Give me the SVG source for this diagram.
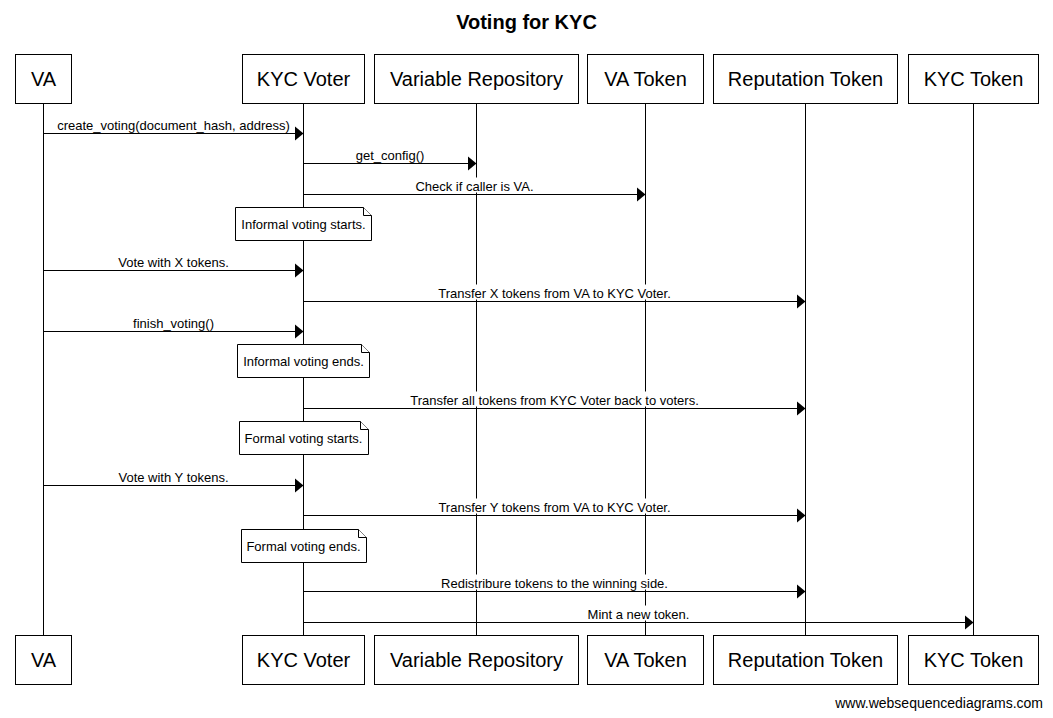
<svg xmlns="http://www.w3.org/2000/svg" width="1053" height="718" viewBox="0 0 1053 718">
  <defs>
    <marker id="ah" markerUnits="userSpaceOnUse" markerWidth="9" markerHeight="15" refX="9" refY="7.5" orient="auto">
      <path d="M0,0 L9,7.5 L0,15 Z" fill="#000"/>
    </marker>
  </defs>
  <style>
    .box { fill: #fff; stroke: #000; stroke-width: 1; }
    .life { stroke: #000; stroke-width: 1; fill: none; }
    .msg { stroke: #000; stroke-width: 1; fill: none; marker-end: url(#ah); }
    .pt { font-family: "Liberation Sans", Arial, sans-serif; font-size: 20px; text-anchor: middle; fill: #000; }
    .lbl { font-family: "Liberation Sans", Arial, sans-serif; font-size: 13px; text-anchor: middle; fill: #000; }
    .bg { fill: #fff; stroke: none; }
    .note { fill: #fff; stroke: #000; stroke-width: 1; }
    .title { font-family: "Liberation Sans", Arial, sans-serif; font-size: 20px; font-weight: bold; text-anchor: middle; fill: #000; }
    .foot { font-family: "Liberation Sans", Arial, sans-serif; font-size: 14px; text-anchor: end; fill: #000; }
  </style>
  <rect width="1053" height="718" fill="#fff"/>
  <text class="title" x="526.5" y="29">Voting for KYC</text>

  <g id="lifelines">
    <line class="life" x1="43.5" y1="103.5" x2="43.5" y2="635.5"/>
    <line class="life" x1="303.5" y1="103.5" x2="303.5" y2="635.5"/>
    <line class="life" x1="476.5" y1="103.5" x2="476.5" y2="635.5"/>
    <line class="life" x1="645.5" y1="103.5" x2="645.5" y2="635.5"/>
    <line class="life" x1="805.5" y1="103.5" x2="805.5" y2="635.5"/>
    <line class="life" x1="973.5" y1="103.5" x2="973.5" y2="635.5"/>
  </g>

  <g id="p-va">
    <rect class="box" x="15.5" y="54.5" width="56" height="49"/>
    <text class="pt" x="43.5" y="86">VA</text>
    <rect class="box" x="15.5" y="635.5" width="56" height="49"/>
    <text class="pt" x="43.5" y="667">VA</text>
  </g>
  <g id="p-kycvoter">
    <rect class="box" x="242.5" y="54.5" width="122" height="49"/>
    <text class="pt" x="303.5" y="86">KYC Voter</text>
    <rect class="box" x="242.5" y="635.5" width="122" height="49"/>
    <text class="pt" x="303.5" y="667">KYC Voter</text>
  </g>
  <g id="p-varrepo">
    <rect class="box" x="374.5" y="54.5" width="204" height="49"/>
    <text class="pt" x="476.5" y="86">Variable Repository</text>
    <rect class="box" x="374.5" y="635.5" width="204" height="49"/>
    <text class="pt" x="476.5" y="667">Variable Repository</text>
  </g>
  <g id="p-vatoken">
    <rect class="box" x="587.5" y="54.5" width="116" height="49"/>
    <text class="pt" x="645.5" y="86">VA Token</text>
    <rect class="box" x="587.5" y="635.5" width="116" height="49"/>
    <text class="pt" x="645.5" y="667">VA Token</text>
  </g>
  <g id="p-reptoken">
    <rect class="box" x="713.5" y="54.5" width="184" height="49"/>
    <text class="pt" x="805.5" y="86">Reputation Token</text>
    <rect class="box" x="713.5" y="635.5" width="184" height="49"/>
    <text class="pt" x="805.5" y="667">Reputation Token</text>
  </g>
  <g id="p-kyctoken">
    <rect class="box" x="908.5" y="54.5" width="130" height="49"/>
    <text class="pt" x="973.5" y="86">KYC Token</text>
    <rect class="box" x="908.5" y="635.5" width="130" height="49"/>
    <text class="pt" x="973.5" y="667">KYC Token</text>
  </g>

  <g id="connectors">
    <rect class="bg" x="56" y="116.5" width="235" height="15"/>
    <text class="lbl" x="173.5" y="129.5">create_voting(document_hash, address)</text>
    <line class="msg" x1="43.5" y1="133.5" x2="303.5" y2="133.5"/>

    <rect class="bg" x="355" y="146.5" width="70" height="15"/>
    <text class="lbl" x="390" y="159.5">get_config()</text>
    <line class="msg" x1="303.5" y1="163.5" x2="476.5" y2="163.5"/>

    <rect class="bg" x="414" y="177.5" width="121" height="15"/>
    <text class="lbl" x="474.5" y="190.5">Check if caller is VA.</text>
    <line class="msg" x1="303.5" y1="194.5" x2="645.5" y2="194.5"/>

    <rect class="bg" x="117" y="253.5" width="113" height="15"/>
    <text class="lbl" x="173.5" y="266.5">Vote with X tokens.</text>
    <line class="msg" x1="43.5" y1="270.5" x2="303.5" y2="270.5"/>

    <rect class="bg" x="434" y="284.5" width="242" height="15"/>
    <text class="lbl" x="554.5" y="297.5">Transfer X tokens from VA to KYC Voter.</text>
    <line class="msg" x1="303.5" y1="301.5" x2="805.5" y2="301.5"/>

    <rect class="bg" x="132" y="314.5" width="83" height="15"/>
    <text class="lbl" x="173.5" y="327.5">finish_voting()</text>
    <line class="msg" x1="43.5" y1="331.5" x2="303.5" y2="331.5"/>

    <rect class="bg" x="409" y="391.5" width="292" height="15"/>
    <text class="lbl" x="554.5" y="404.5">Transfer all tokens from KYC Voter back to voters.</text>
    <line class="msg" x1="303.5" y1="408.5" x2="805.5" y2="408.5"/>

    <rect class="bg" x="117" y="468.5" width="113" height="15"/>
    <text class="lbl" x="173.5" y="481.5">Vote with Y tokens.</text>
    <line class="msg" x1="43.5" y1="485.5" x2="303.5" y2="485.5"/>

    <rect class="bg" x="434" y="498.5" width="242" height="15"/>
    <text class="lbl" x="554.5" y="511.5">Transfer Y tokens from VA to KYC Voter.</text>
    <line class="msg" x1="303.5" y1="515.5" x2="805.5" y2="515.5"/>

    <rect class="bg" x="440" y="574.5" width="229" height="15"/>
    <text class="lbl" x="554.5" y="587.5">Redistribure tokens to the winning side.</text>
    <line class="msg" x1="303.5" y1="591.5" x2="805.5" y2="591.5"/>

    <rect class="bg" x="587" y="605.5" width="104" height="15"/>
    <text class="lbl" x="638.5" y="618.5">Mint a new token.</text>
    <line class="msg" x1="303.5" y1="622.5" x2="973.5" y2="622.5"/>
  </g>

  <g id="note-informal-start">
    <path class="note" d="M235.5,207.5 H363.5 L371.5,215.5 V240.5 H235.5 Z"/>
    <path class="note" d="M363.5,207.5 V215.5 H371.5"/>
    <text class="lbl" x="303.5" y="228.5">Informal voting starts.</text>
  </g>
  <g id="note-informal-end">
    <path class="note" d="M237.5,344.5 H361.5 L369.5,352.5 V377.5 H237.5 Z"/>
    <path class="note" d="M361.5,344.5 V352.5 H369.5"/>
    <text class="lbl" x="303.5" y="365.5">Informal voting ends.</text>
  </g>
  <g id="note-formal-start">
    <path class="note" d="M239.5,421.5 H360.5 L368.5,429.5 V454.5 H239.5 Z"/>
    <path class="note" d="M360.5,421.5 V429.5 H368.5"/>
    <text class="lbl" x="303.5" y="442.5">Formal voting starts.</text>
  </g>
  <g id="note-formal-end">
    <path class="note" d="M241.5,529.5 H358.5 L366.5,537.5 V562.5 H241.5 Z"/>
    <path class="note" d="M358.5,529.5 V537.5 H366.5"/>
    <text class="lbl" x="303.5" y="550.5">Formal voting ends.</text>
  </g>

  <text class="foot" x="1043" y="708">www.websequencediagrams.com</text>
</svg>
